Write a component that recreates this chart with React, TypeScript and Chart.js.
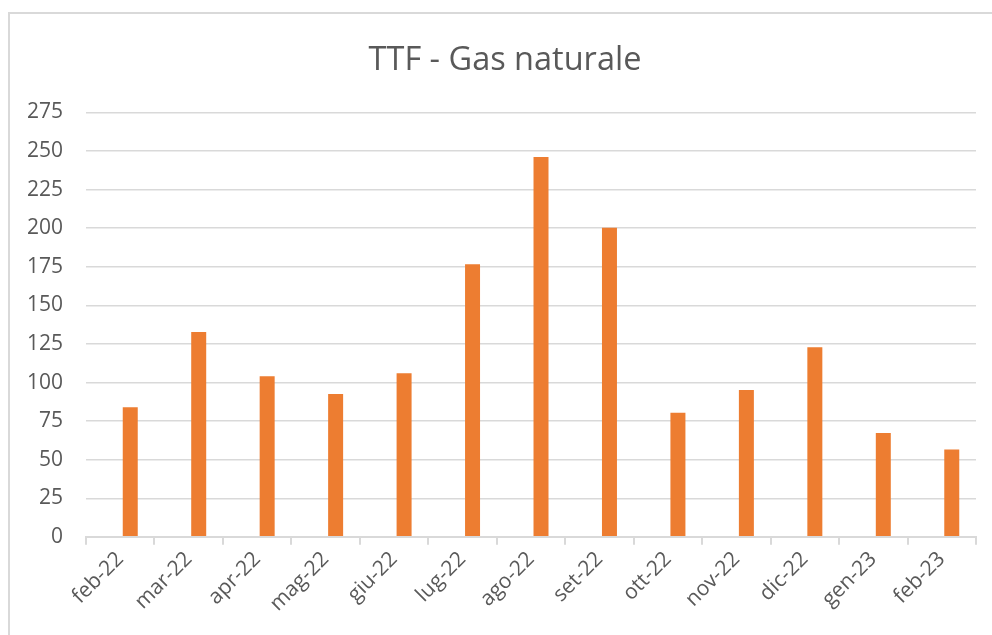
import React, { useEffect, useRef } from "react";
import { Chart, registerables } from "chart.js";

Chart.register(...registerables);

const categories = [
  "feb-22", "mar-22", "apr-22", "mag-22", "giu-22", "lug-22", "ago-22",
  "set-22", "ott-22", "nov-22", "dic-22", "gen-23", "feb-23",
];
// an empty companion series (as in the source workbook) sits in the left slot
const emptySeries = [null, null, null, null, null, null, null, null, null, null, null, null, null];
const values = [84, 132.8, 104.1, 92.6, 106, 176.7, 246.1, 200.3, 80.5, 95.2, 122.9, 67.3, 56.6];
const titleText = "TTF - Gas naturale";
const yMin = 0;
const yMax = 275;
const yStep = 25;

// centre the title over the whole chart frame rather than the padded area
const titleShift = {
  id: "titleShift",
  afterLayout(chart: any) {
    const tb = chart.titleBlock;
    if (tb) {
      tb.left += 15;
      tb.right += 15;
    }
  },
};

export default function App() {
  const ref = useRef<HTMLCanvasElement>(null);
  useEffect(() => {
    if (!ref.current) return;
    const font = "'Open Sans', 'DejaVu Sans', sans-serif";
    const chart = new Chart(ref.current, {
      type: "bar",
      data: {
        labels: categories,
        datasets: [
          {
            label: "",
            data: emptySeries,
            backgroundColor: "rgba(0,0,0,0)",
            borderWidth: 0,
            barPercentage: 0.75,
            categoryPercentage: 0.584,
          },
          {
            label: "TTF",
            data: values,
            backgroundColor: "#ED7D31",
            borderWidth: 0,
            barPercentage: 0.75,
            categoryPercentage: 0.584,
          },
        ],
      },
      plugins: [titleShift],
      options: {
        responsive: false,
        animation: false,
        layout: { padding: { left: 4, right: 16, top: 12, bottom: 16.5 } },
        plugins: {
          legend: { display: false },
          tooltip: { enabled: false },
          title: {
            display: true,
            text: titleText,
            color: "#595959",
            font: { family: font, size: 32.5, weight: "normal" },
            padding: { top: 29, bottom: 32.5 },
          },
        },
        scales: {
          x: {
            grid: {
              display: true,
              drawOnChartArea: false,
              drawTicks: true,
              tickLength: 8,
              color: "#d9d9d9",
              lineWidth: 2,
            },
            border: { display: true, color: "#d9d9d9", width: 2 },
            ticks: {
              color: "#595959",
              font: { family: font, size: 21 },
              minRotation: 45,
              maxRotation: 45,
              padding: 2,
              autoSkip: false,
            },
          },
          y: {
            min: yMin,
            max: yMax,
            grid: { color: "#d9d9d9", lineWidth: 1.5, drawTicks: false },
            border: { display: false },
            ticks: {
              stepSize: yStep,
              color: "#595959",
              font: { family: font, size: 21 },
              padding: 23,
            },
          },
        },
      },
    });
    return () => chart.destroy();
  }, []);

  return (
    <div
      style={{
        position: "fixed",
        left: 0,
        top: 0,
        width: 992,
        height: 635,
        overflow: "hidden",
        background: "#fff",
      }}
    >
      <div
        style={{
          position: "absolute",
          left: 8,
          top: 12,
          width: 1100,
          height: 700,
          border: "2px solid #d9d9d9",
          boxSizing: "border-box",
        }}
      />
      <canvas
        ref={ref}
        width={992}
        height={635}
        style={{ position: "absolute", left: 0, top: 0 }}
      />
    </div>
  );
}
